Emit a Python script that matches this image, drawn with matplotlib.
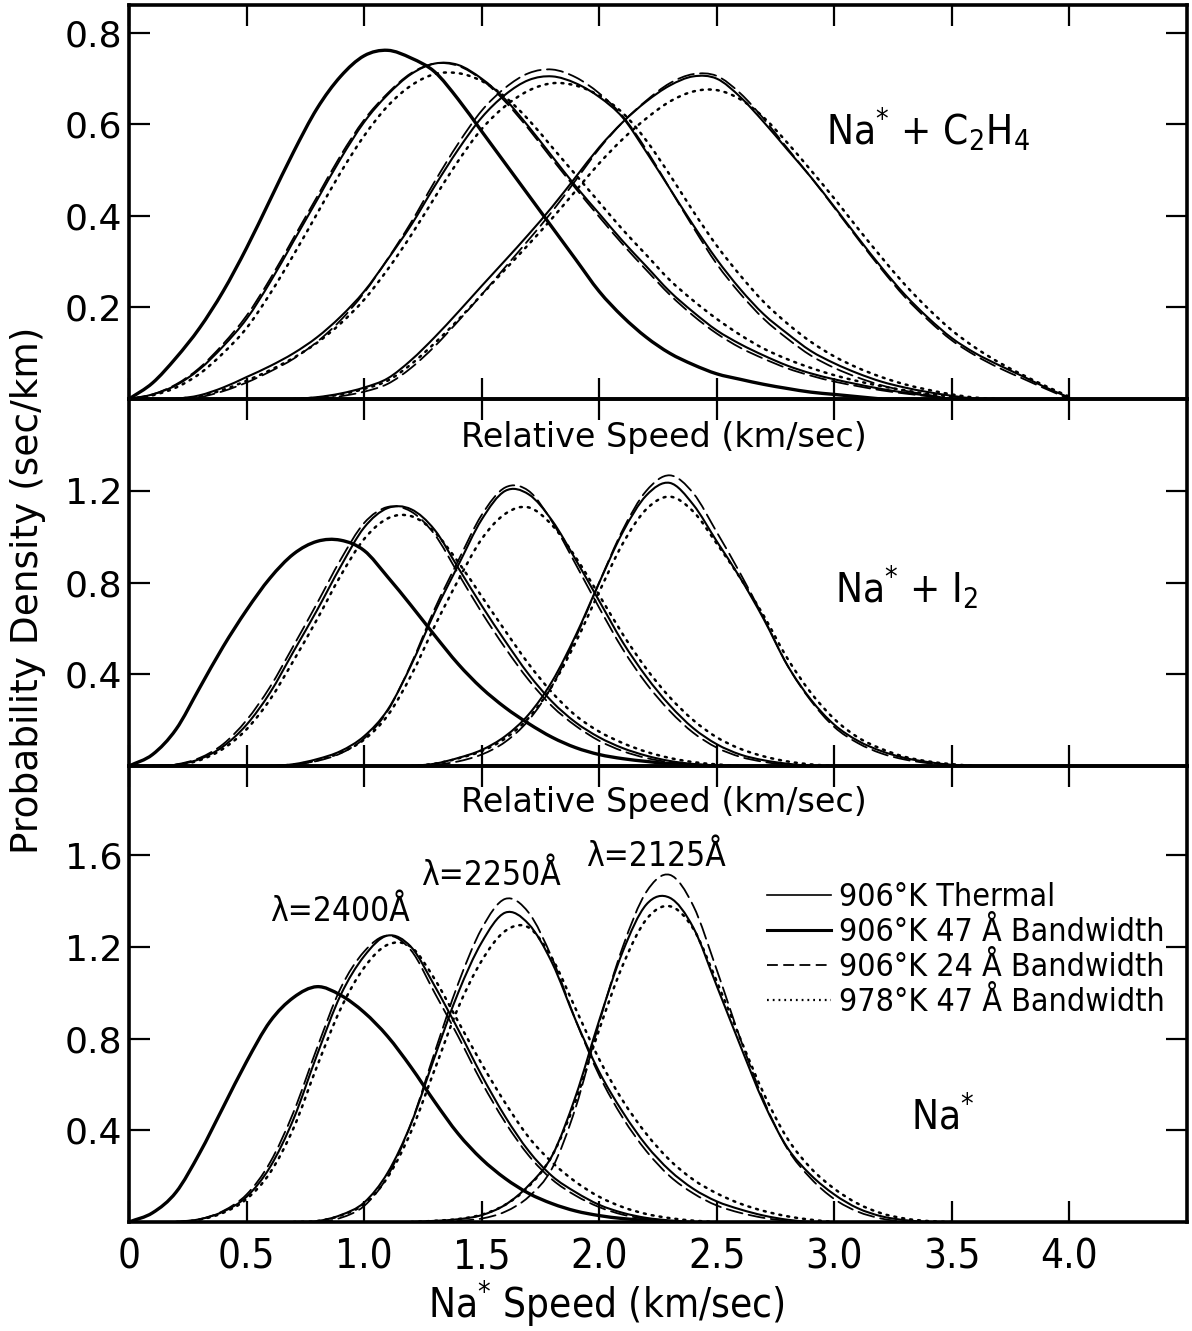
import matplotlib
matplotlib.use("Agg")
import matplotlib.pyplot as plt
from matplotlib.lines import Line2D
from matplotlib.path import Path
from matplotlib.patches import PathPatch
import numpy as np

plt.rcParams["mathtext.default"] = "regular"

# Densities every 0.1 km/s.
# Each curve: (speed of first value, list of densities)
STEP = 0.1

# ---- Na* + C2H4 (top panel)
c2h4_thermal = (0.0, [0, 0.035, 0.09, 0.155, 0.235, 0.33, 0.435, 0.54, 0.635, 0.705, 0.75, 0.762,
                      0.745, 0.715, 0.655, 0.585, 0.515, 0.445, 0.375, 0.305, 0.235, 0.18, 0.135,
                      0.10, 0.075, 0.055, 0.043, 0.032, 0.023, 0.015, 0.01, 0.005, 0.0])
c2h4_2400_47 = (0.0, [0, 0.01, 0.03, 0.065, 0.115, 0.175, 0.255, 0.345, 0.435, 0.525, 0.605, 0.665,
                      0.71, 0.733, 0.73, 0.70, 0.655, 0.595, 0.53, 0.465, 0.405, 0.345, 0.29, 0.235,
                      0.19, 0.15, 0.12, 0.095, 0.073, 0.056, 0.043, 0.032, 0.022, 0.014, 0.007, 0.0])
c2h4_2400_24 = (0.0, [0, 0.01, 0.032, 0.068, 0.12, 0.182, 0.262, 0.352, 0.442, 0.532, 0.61, 0.668,
                      0.712, 0.733, 0.728, 0.698, 0.65, 0.59, 0.524, 0.46, 0.398, 0.338, 0.282, 0.228,
                      0.182, 0.143, 0.112, 0.088, 0.067, 0.051, 0.038, 0.028, 0.019, 0.012, 0.006, 0.0])
c2h4_2400_978 = (0.0, [0, 0.008, 0.025, 0.055, 0.10, 0.155, 0.23, 0.315, 0.405, 0.495, 0.575, 0.64,
                       0.685, 0.71, 0.712, 0.695, 0.66, 0.61, 0.55, 0.49, 0.43, 0.37, 0.315, 0.26,
                       0.215, 0.175, 0.14, 0.11, 0.087, 0.068, 0.052, 0.039, 0.028, 0.019, 0.011,
                       0.005, 0.0])
c2h4_2250_47 = (0.2, [0, 0.008, 0.025, 0.048, 0.072, 0.10, 0.135, 0.18, 0.235, 0.305, 0.38, 0.465,
                      0.545, 0.615, 0.665, 0.697, 0.705, 0.69, 0.66, 0.615, 0.54, 0.46, 0.38, 0.305,
                      0.24, 0.185, 0.143, 0.105, 0.078, 0.056, 0.038, 0.025, 0.015, 0.007, 0.0])
c2h4_2250_24 = (0.2, [0, 0.004, 0.017, 0.036, 0.06, 0.088, 0.125, 0.172, 0.232, 0.306, 0.386, 0.475,
                      0.558, 0.63, 0.68, 0.712, 0.72, 0.703, 0.668, 0.618, 0.545, 0.46, 0.375, 0.295,
                      0.23, 0.175, 0.132, 0.095, 0.068, 0.047, 0.03, 0.018, 0.009, 0.0])
c2h4_2250_978 = (0.2, [0, 0.006, 0.02, 0.04, 0.063, 0.09, 0.123, 0.165, 0.217, 0.283, 0.358, 0.44,
                       0.52, 0.59, 0.64, 0.674, 0.69, 0.685, 0.663, 0.625, 0.565, 0.49, 0.41, 0.335,
                       0.27, 0.212, 0.165, 0.125, 0.093, 0.068, 0.048, 0.032, 0.02, 0.01, 0.003, 0.0])
c2h4_2125_47 = (0.7, [0, 0.004, 0.012, 0.025, 0.045, 0.085, 0.135, 0.19, 0.247, 0.303, 0.36, 0.42,
                      0.485, 0.55, 0.605, 0.65, 0.685, 0.705, 0.70, 0.66, 0.605, 0.545, 0.485, 0.42,
                      0.353, 0.288, 0.228, 0.177, 0.133, 0.10, 0.074, 0.05, 0.025, 0.003])
c2h4_2125_24 = (0.8, [0, 0.006, 0.016, 0.033, 0.068, 0.115, 0.17, 0.228, 0.288, 0.348, 0.41, 0.478,
                      0.547, 0.605, 0.652, 0.69, 0.71, 0.706, 0.668, 0.612, 0.548, 0.485, 0.418,
                      0.35, 0.284, 0.223, 0.172, 0.128, 0.095, 0.068, 0.045, 0.022, 0.0])
c2h4_2125_978 = (0.7, [0, 0.003, 0.01, 0.022, 0.04, 0.076, 0.122, 0.173, 0.228, 0.283, 0.338, 0.395,
                       0.455, 0.515, 0.568, 0.613, 0.65, 0.672, 0.675, 0.655, 0.615, 0.56, 0.5,
                       0.438, 0.373, 0.31, 0.25, 0.197, 0.15, 0.112, 0.08, 0.053, 0.028, 0.005])

# ---- Na* + I2 (middle panel)
i2_thermal = (0.0, [0, 0.05, 0.16, 0.34, 0.52, 0.68, 0.82, 0.925, 0.98, 0.985, 0.94, 0.825, 0.70,
                    0.57, 0.445, 0.34, 0.255, 0.185, 0.125, 0.08, 0.05, 0.032, 0.02, 0.01, 0.004, 0.0])
i2_2400_47 = (0.1, [0, 0.005, 0.03, 0.085, 0.18, 0.32, 0.5, 0.68, 0.87, 1.04, 1.125, 1.12, 1.03,
                    0.865, 0.7, 0.545, 0.4, 0.28, 0.19, 0.125, 0.078, 0.045, 0.022, 0.009, 0.003, 0.0])
i2_2400_24 = (0.1, [0, 0.007, 0.035, 0.095, 0.2, 0.345, 0.525, 0.71, 0.9, 1.06, 1.13, 1.11, 1.01,
                    0.84, 0.67, 0.515, 0.375, 0.26, 0.175, 0.11, 0.065, 0.035, 0.016, 0.005, 0.0])
i2_2400_978 = (0.1, [0, 0.004, 0.025, 0.075, 0.16, 0.29, 0.46, 0.64, 0.83, 0.99, 1.08, 1.09, 1.02,
                     0.89, 0.74, 0.59, 0.445, 0.32, 0.22, 0.15, 0.1, 0.062, 0.035, 0.017, 0.007, 0.0])
i2_2250_47 = (0.6, [0, 0.008, 0.03, 0.065, 0.13, 0.245, 0.44, 0.67, 0.875, 1.075, 1.2, 1.185, 1.07,
                    0.9, 0.72, 0.54, 0.39, 0.265, 0.165, 0.095, 0.05, 0.025, 0.01, 0.0])
i2_2250_24 = (0.6, [0, 0.005, 0.022, 0.055, 0.12, 0.24, 0.445, 0.685, 0.895, 1.095, 1.215, 1.2, 1.065,
                    0.88, 0.69, 0.51, 0.36, 0.24, 0.145, 0.08, 0.04, 0.018, 0.005, 0.0])
i2_2250_978 = (0.6, [0, 0.006, 0.025, 0.058, 0.115, 0.22, 0.395, 0.61, 0.81, 0.99, 1.1, 1.128, 1.05,
                     0.91, 0.745, 0.575, 0.425, 0.3, 0.2, 0.125, 0.075, 0.042, 0.02, 0.007, 0.0])
i2_2125_47 = (1.2, [0, 0.01, 0.035, 0.07, 0.13, 0.225, 0.37, 0.57, 0.8, 1.02, 1.18, 1.235, 1.14, 0.98,
                    0.82, 0.64, 0.44, 0.29, 0.18, 0.11, 0.065, 0.035, 0.017, 0.005, 0.0])
i2_2125_24 = (1.2, [0, 0.005, 0.02, 0.05, 0.105, 0.2, 0.35, 0.56, 0.8, 1.03, 1.2, 1.268, 1.19, 1.02,
                    0.84, 0.645, 0.44, 0.285, 0.17, 0.1, 0.055, 0.028, 0.012, 0.0])
i2_2125_978 = (1.2, [0, 0.01, 0.033, 0.065, 0.12, 0.21, 0.35, 0.54, 0.76, 0.97, 1.12, 1.175, 1.11,
                     0.97, 0.82, 0.655, 0.47, 0.32, 0.205, 0.125, 0.075, 0.04, 0.02, 0.008, 0.0])

# ---- Na* alone (bottom panel)
na_thermal = (0.0, [0, 0.04, 0.13, 0.3, 0.5, 0.7, 0.875, 0.98, 1.027, 0.99, 0.915, 0.81, 0.675,
                    0.525, 0.385, 0.275, 0.19, 0.125, 0.08, 0.048, 0.028, 0.015, 0.007, 0.0])
na_2400_47 = (0.2, [0, 0.012, 0.045, 0.11, 0.24, 0.45, 0.73, 0.99, 1.16, 1.25, 1.2, 1.03, 0.84, 0.64,
                    0.46, 0.31, 0.2, 0.13, 0.075, 0.04, 0.018, 0.007, 0.0])
na_2400_24 = (0.2, [0, 0.012, 0.048, 0.12, 0.26, 0.48, 0.76, 1.02, 1.18, 1.25, 1.185, 1.0, 0.81, 0.61,
                    0.435, 0.29, 0.185, 0.115, 0.065, 0.032, 0.013, 0.004, 0.0])
na_2400_978 = (0.2, [0, 0.01, 0.04, 0.1, 0.215, 0.41, 0.68, 0.93, 1.11, 1.21, 1.2, 1.06, 0.875, 0.69,
                     0.52, 0.37, 0.26, 0.175, 0.11, 0.065, 0.035, 0.017, 0.006, 0.0])
na_2250_47 = (0.7, [0, 0.004, 0.03, 0.085, 0.215, 0.43, 0.72, 1.0, 1.22, 1.35, 1.3, 1.13, 0.88, 0.655,
                    0.48, 0.335, 0.225, 0.145, 0.09, 0.055, 0.028, 0.01, 0.0])
na_2250_24 = (0.7, [0, 0.0, 0.018, 0.07, 0.2, 0.43, 0.74, 1.04, 1.28, 1.41, 1.35, 1.15, 0.88, 0.64,
                    0.455, 0.31, 0.2, 0.125, 0.072, 0.04, 0.018, 0.005, 0.0])
na_2250_978 = (0.7, [0, 0.004, 0.028, 0.078, 0.195, 0.395, 0.665, 0.935, 1.14, 1.27, 1.285, 1.15, 0.93,
                     0.71, 0.53, 0.385, 0.27, 0.185, 0.125, 0.08, 0.048, 0.025, 0.01, 0.0])
na_2125_47 = (1.2, [0, 0.005, 0.012, 0.03, 0.075, 0.16, 0.29, 0.55, 0.88, 1.18, 1.385, 1.415, 1.285,
                    1.03, 0.77, 0.52, 0.325, 0.205, 0.12, 0.06, 0.025, 0.008, 0.0])
na_2125_24 = (1.3, [0, 0.005, 0.015, 0.045, 0.11, 0.235, 0.5, 0.87, 1.2, 1.44, 1.515, 1.38, 1.1, 0.8,
                    0.53, 0.32, 0.19, 0.1, 0.045, 0.015, 0.0])
na_2125_978 = (1.2, [0, 0.005, 0.013, 0.032, 0.075, 0.155, 0.29, 0.53, 0.84, 1.12, 1.32, 1.378, 1.28,
                     1.05, 0.8, 0.56, 0.365, 0.235, 0.145, 0.08, 0.038, 0.015, 0.004, 0.0])

legend_labels = ["906°K Thermal", "906°K 47 Å Bandwidth", "906°K 24 Å Bandwidth",
                 "978°K 47 Å Bandwidth"]
speed_ticks = [0, 0.5, 1.0, 1.5, 2.0, 2.5, 3.0, 3.5, 4.0]
speed_ticklabels = ["0", "0.5", "1.0", "1.5", "2.0", "2.5", "3.0", "3.5", "4.0"]
lambda_labels = ["λ=2400Å", "λ=2250Å", "λ=2125Å"]

STYLES = {
    "thermal": dict(lw=2.4, ls="-"),
    "47": dict(lw=1.5, ls="-"),
    "24": dict(lw=1.3, ls=(0, (9, 3.5))),
    "978": dict(lw=1.8, ls=(0, (0.8, 2.4))),
}

COND = dict(family="DejaVu Sans", fontstretch="condensed")


def smooth_path(speed, dens):
    # Catmull-Rom style bezier through the read points, so the pen line has no corners
    x = np.asarray(speed, float)
    y = np.asarray(dens, float)
    h = np.diff(x)
    m = np.gradient(y, x)
    verts = [(x[0], y[0])]
    codes = [Path.MOVETO]
    for i in range(len(y) - 1):
        verts += [(x[i] + h[i] / 3, y[i] + m[i] * h[i] / 3),
                  (x[i + 1] - h[i] / 3, y[i + 1] - m[i + 1] * h[i] / 3),
                  (x[i + 1], y[i + 1])]
        codes += [Path.CURVE4] * 3
    return Path(verts, codes)


def draw(ax, curve, style):
    x0, dens = curve
    speed = x0 + STEP * np.arange(len(dens))
    patch = PathPatch(smooth_path(speed, dens), fill=False, edgecolor="black",
                      capstyle="round", joinstyle="round", **STYLES[style])
    ax.add_patch(patch)


def style_axis(ax, ylim, yticks):
    ax.set_xlim(0, 4.5)
    ax.set_ylim(*ylim)
    ax.set_xticks(speed_ticks)
    ax.set_yticks(yticks)
    ax.set_yticklabels([f"{t:.1f}" for t in yticks])
    ax.tick_params(direction="in", length=15, width=1.6, top=True, right=True)
    ax.tick_params(axis="x", labelsize=29, pad=11)
    ax.tick_params(axis="y", labelsize=26, pad=5)
    ax.patch.set_visible(False)
    for sp in ax.spines.values():
        sp.set_linewidth(2.6)


fig = plt.figure(figsize=(11.92, 13.31), dpi=100)
left, width = 129 / 1192, (1187 - 129) / 1192
ax_top = fig.add_axes([left, 1 - 399 / 1331, width, 394 / 1331])
ax_mid = fig.add_axes([left, 1 - 766 / 1331, width, 367 / 1331])
ax_bot = fig.add_axes([left, 1 - 1222 / 1331, width, 456 / 1331])

panels = [
    (ax_top, (0, 0.861), [0.2, 0.4, 0.6, 0.8],
     [(c2h4_thermal, "thermal"), (c2h4_2400_47, "47"), (c2h4_2400_24, "24"), (c2h4_2400_978, "978"),
      (c2h4_2250_47, "47"), (c2h4_2250_24, "24"), (c2h4_2250_978, "978"),
      (c2h4_2125_47, "47"), (c2h4_2125_24, "24"), (c2h4_2125_978, "978")]),
    (ax_mid, (0, 1.601), [0.4, 0.8, 1.2],
     [(i2_thermal, "thermal"), (i2_2400_47, "47"), (i2_2400_24, "24"), (i2_2400_978, "978"),
      (i2_2250_47, "47"), (i2_2250_24, "24"), (i2_2250_978, "978"),
      (i2_2125_47, "47"), (i2_2125_24, "24"), (i2_2125_978, "978")]),
    (ax_bot, (0, 1.99), [0.4, 0.8, 1.2, 1.6],
     [(na_thermal, "thermal"), (na_2400_47, "47"), (na_2400_24, "24"), (na_2400_978, "978"),
      (na_2250_47, "47"), (na_2250_24, "24"), (na_2250_978, "978"),
      (na_2125_47, "47"), (na_2125_24, "24"), (na_2125_978, "978")]),
]

for ax, ylim, yticks, curves in panels:
    for curve, style in curves:
        draw(ax, curve, style)
    style_axis(ax, ylim, yticks)

for ax, label_y in ((ax_top, -0.056), (ax_mid, -0.055)):
    ax.tick_params(labelbottom=False)
    ax.set_xlabel("Relative Speed (km/sec)", fontsize=24)
    ax.xaxis.set_label_coords(0.506, label_y)

ax_bot.set_xticklabels(speed_ticklabels, **COND)

fig.text(0.509, 0.0205, "Na$^{*}$ Speed (km/sec)", ha="center", va="center", fontsize=29, **COND)
fig.text(0.0235, 0.5567, "Probability Density (sec/km)", rotation=90, ha="center", va="center",
         fontsize=27)

ax_top.text(3.40, 0.588, "Na$^{*}$ + C$_{2}$H$_{4}$", ha="center", va="center", fontsize=29, **COND)
ax_mid.text(3.31, 0.777, "Na$^{*}$ + I$_{2}$", ha="center", va="center", fontsize=29, **COND)
ax_bot.text(3.46, 0.454, "Na$^{*}$", ha="center", va="center", fontsize=29, **COND)

for label, (lx, ly) in zip(lambda_labels, [(0.896, 1.353), (1.539, 1.51), (2.243, 1.593)]):
    ax_bot.text(lx, ly, label, ha="center", va="center", fontsize=24, **COND)

handles = [
    Line2D([], [], color="black", lw=1.2, ls="-"),
    Line2D([], [], color="black", lw=2.2, ls="-"),
    Line2D([], [], color="black", lw=1.3, ls=(0, (6, 3))),
    Line2D([], [], color="black", lw=1.6, ls=(0, (0.8, 1.8))),
]
ax_bot.legend(handles, legend_labels, loc="upper left", bbox_to_anchor=(0.603, 0.745),
              frameon=False, borderpad=0, borderaxespad=0, handlelength=2.0,
              handletextpad=0.25, labelspacing=0.12, prop=dict(size=23, stretch="condensed"))

fig.savefig("out.png", dpi=100, facecolor="white")
